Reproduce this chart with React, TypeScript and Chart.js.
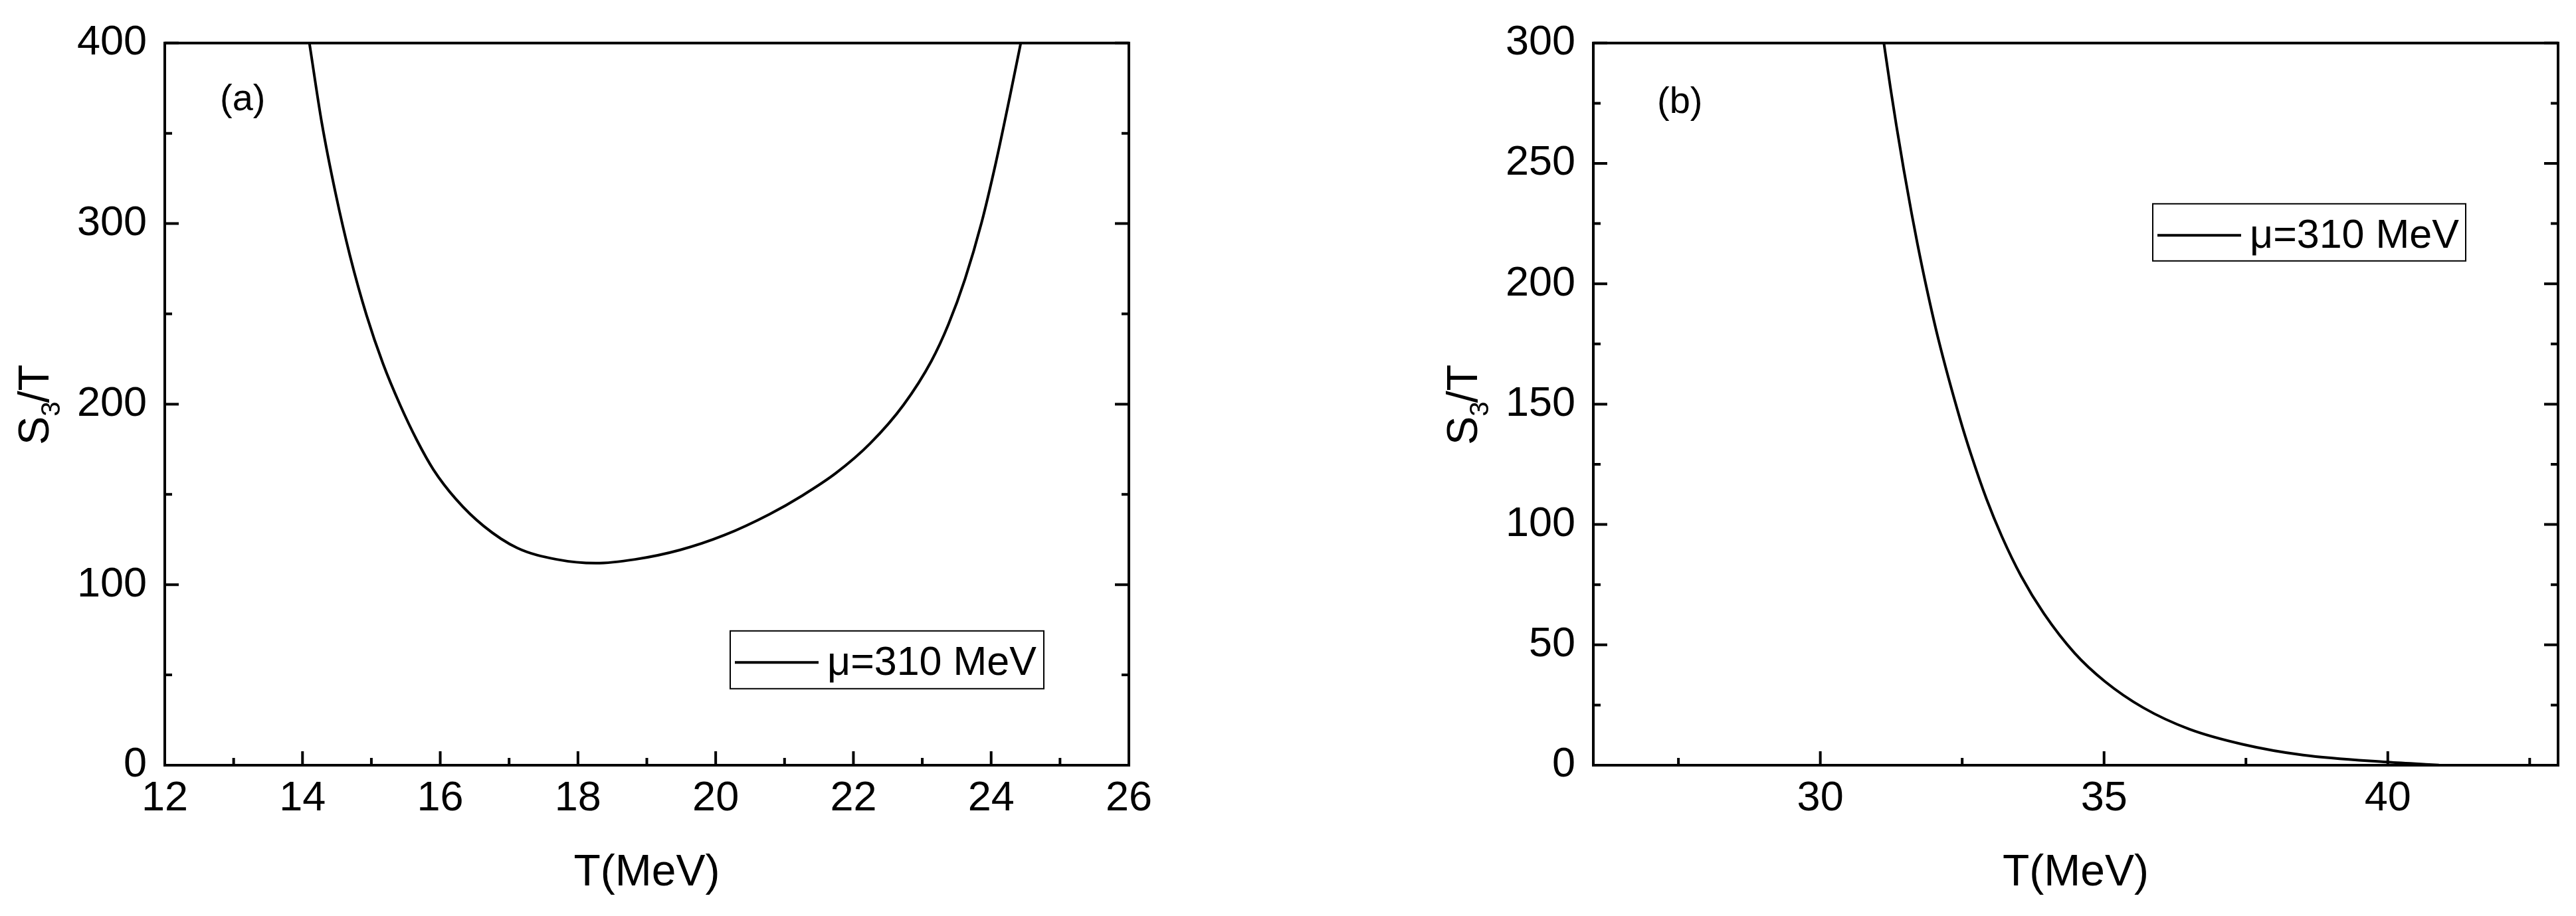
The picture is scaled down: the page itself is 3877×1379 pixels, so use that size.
import React, { useEffect, useRef } from 'react';
import { Chart, registerables } from 'chart.js';

Chart.register(...registerables);

const FONT = '"Liberation Sans", Arial, Helvetica, sans-serif';

// ---------- Panel (a) ----------
const A_T = [14.10, 14.28, 14.48, 14.69, 14.93, 15.17, 15.42, 15.66, 15.90, 16.23, 16.63, 17.12, 17.69, 18.26, 18.83, 19.48, 20.13, 20.78, 21.26, 21.75, 22.24, 22.73, 23.13, 23.38, 23.62, 23.86, 24.07, 24.27, 24.43];
const A_S = [400, 355.8, 316.8, 282.1, 249.2, 222.3, 199.3, 180.1, 163.8, 147.3, 132.5, 120.3, 114.0, 111.9, 114.0, 119.2, 127.5, 139.0, 149.4, 161.9, 178.1, 199.7, 223.7, 244.2, 269.2, 300.4, 334.0, 370.0, 400];
const A_X_TICKS = [12, 14, 16, 18, 20, 22, 24, 26];
const A_Y_TICKS = [0, 100, 200, 300, 400];
const A_X_RANGE = [12, 26];
const A_Y_RANGE = [0, 400];

// ---------- Panel (b) ----------
const B_T = [31.12, 31.24, 31.34, 31.47, 31.61, 31.71, 31.88, 32.08, 32.46, 32.66, 32.93, 33.20, 33.54, 33.94, 34.48, 35.02, 35.69, 36.50, 37.44, 38.51, 39.99, 40.73, 40.9];
const B_S = [300, 280.8, 265.8, 247.5, 229.1, 216.8, 197.5, 177.0, 144.0, 128.8, 110.5, 95.0, 78.5, 63.0, 46.6, 34.7, 23.9, 15.0, 8.7, 4.2, 1.3, 0.3, 0.1];
const B_X_TICKS = [30, 35, 40];
const B_Y_TICKS = [0, 50, 100, 150, 200, 250, 300];
const B_X_RANGE = [26, 43];
const B_Y_RANGE = [0, 300];

const SERIES_LABEL = 'μ=310 MeV';
const X_TITLE = 'T(MeV)';
const Y_TITLE_MAIN = 'S';
const Y_TITLE_SUB = '3';
const Y_TITLE_REST = '/T';

function minorValues(major: number[], min: number, max: number): number[] {
  if (major.length < 2) return [];
  const step = major[1] - major[0];
  const out: number[] = [];
  for (let v = major[0] - step / 2; v >= min - 1e-9; v -= step) out.push(v);
  for (const m of major) {
    const v = m + step / 2;
    if (v <= max + 1e-9) out.push(v);
  }
  return out;
}

interface PanelSpec {
  label: string;
  T: number[];
  S: number[];
  xTicks: number[];
  yTicks: number[];
  xRange: number[];
  yRange: number[];
  canvasWidth: number;
  yAxisWidth: number;
  padRight: number;
  panelDx: number;
  panelDy: number;
  legDx: number;
  legDy: number;
  legW: number;
  legH: number;
}

function makeDecor(p: PanelSpec) {
  return {
    id: 'decor' + p.label,
    afterDatasetsDraw(chart: any) {
      const ctx: CanvasRenderingContext2D = chart.ctx;
      const { left, right, top, bottom } = chart.chartArea;
      const xs = chart.scales.x;
      const ys = chart.scales.y;
      const majorLen = 21;
      const minorLen = 11;
      ctx.save();
      ctx.strokeStyle = '#000';
      ctx.fillStyle = '#000';
      ctx.lineWidth = 4;
      ctx.lineCap = 'butt';
      ctx.beginPath();
      const xMaj = xs.ticks.map((t: any) => t.value);
      const xMin = minorValues(xMaj, xs.min, xs.max);
      for (const v of xMaj) {
        const px = xs.getPixelForValue(v);
        ctx.moveTo(px, bottom);
        ctx.lineTo(px, bottom - majorLen);
      }
      for (const v of xMin) {
        const px = xs.getPixelForValue(v);
        ctx.moveTo(px, bottom);
        ctx.lineTo(px, bottom - minorLen);
      }
      const yMaj = ys.ticks.map((t: any) => t.value);
      const yMin = minorValues(yMaj, ys.min, ys.max);
      for (const v of yMaj) {
        const py = ys.getPixelForValue(v);
        ctx.moveTo(left, py);
        ctx.lineTo(left + majorLen, py);
        ctx.moveTo(right, py);
        ctx.lineTo(right - majorLen, py);
      }
      for (const v of yMin) {
        const py = ys.getPixelForValue(v);
        ctx.moveTo(left, py);
        ctx.lineTo(left + minorLen, py);
        ctx.moveTo(right, py);
        ctx.lineTo(right - minorLen, py);
      }
      ctx.stroke();
      ctx.lineJoin = 'miter';
      ctx.strokeRect(left, top, right - left, bottom - top);

      // panel label
      ctx.font = `56px ${FONT}`;
      ctx.textAlign = 'left';
      ctx.textBaseline = 'alphabetic';
      ctx.fillText(p.label, left + p.panelDx, top + p.panelDy);

      // legend
      const bx = left + p.legDx;
      const by = top + p.legDy;
      ctx.lineWidth = 2;
      ctx.strokeRect(bx, by, p.legW, p.legH);
      ctx.lineWidth = 4;
      ctx.beginPath();
      ctx.moveTo(bx + 7, by + 47.5);
      ctx.lineTo(bx + 133, by + 47.5);
      ctx.stroke();
      ctx.font = `61px ${FONT}`;
      ctx.fillText(chart.data.datasets[0].label, bx + 146, by + 66.5);

      // y title with subscript
      const cy = (top + bottom) / 2;
      const baseX = left - 175;
      ctx.translate(baseX, cy);
      ctx.rotate(-Math.PI / 2);
      const mainFont = `65px ${FONT}`;
      const subFont = `40px ${FONT}`;
      ctx.font = mainFont;
      const wS = ctx.measureText(Y_TITLE_MAIN).width;
      const wR = ctx.measureText(Y_TITLE_REST).width;
      ctx.font = subFont;
      const w3 = ctx.measureText(Y_TITLE_SUB).width;
      const total = wS + w3 + wR;
      let x0 = -total / 2;
      ctx.font = mainFont;
      ctx.fillText(Y_TITLE_MAIN, x0, 0);
      x0 += wS;
      ctx.font = subFont;
      ctx.fillText(Y_TITLE_SUB, x0, 17);
      x0 += w3;
      ctx.font = mainFont;
      ctx.fillText(Y_TITLE_REST, x0 - 2, 0);
      ctx.restore();
    },
  };
}

function makeConfig(p: PanelSpec): any {
  const points = p.T.map((t, i) => ({ x: t, y: p.S[i] }));
  return {
    type: 'line',
    data: {
      datasets: [
        {
          label: SERIES_LABEL,
          data: points,
          borderColor: '#000',
          borderWidth: 4,
          pointRadius: 0,
          fill: false,
          cubicInterpolationMode: 'monotone',
        },
      ],
    },
    options: {
      animation: false,
      responsive: false,
      devicePixelRatio: 1,
      layout: { padding: { left: 0, top: 50, right: p.padRight, bottom: 0 } },
      plugins: {
        legend: { display: false },
        tooltip: { enabled: false },
        title: { display: false },
      },
      scales: {
        x: {
          type: 'linear',
          min: p.xRange[0],
          max: p.xRange[1],
          grid: { display: false, drawTicks: false },
          border: { display: false },
          afterBuildTicks: (scale: any) => {
            scale.ticks = p.xTicks.map((v) => ({ value: v }));
          },
          afterFit: (scale: any) => {
            scale.height = 227;
          },
          ticks: {
            autoSkip: false,
            maxRotation: 0,
            minRotation: 0,
            padding: 13,
            color: '#000',
            font: { family: FONT, size: 63 },
            callback: (v: any) => String(v),
          },
          title: {
            display: true,
            text: X_TITLE,
            color: '#000',
            font: { family: FONT, size: 66 },
            padding: { top: 0, bottom: 25 },
          },
        },
        y: {
          type: 'linear',
          min: p.yRange[0],
          max: p.yRange[1],
          grid: { display: false, drawTicks: false },
          border: { display: false },
          afterBuildTicks: (scale: any) => {
            scale.ticks = p.yTicks.map((v) => ({ value: v }));
          },
          afterFit: (scale: any) => {
            scale.width = p.yAxisWidth;
          },
          ticks: {
            autoSkip: false,
            padding: 27,
            color: '#000',
            font: { family: FONT, size: 63 },
            callback: (v: any) => String(v),
          },
          title: { display: false },
        },
      },
    },
    plugins: [makeDecor(p)],
  };
}

const PANEL_A: PanelSpec = {
  label: '(a)',
  T: A_T,
  S: A_S,
  xTicks: A_X_TICKS,
  yTicks: A_Y_TICKS,
  xRange: A_X_RANGE,
  yRange: A_Y_RANGE,
  canvasWidth: 1938,
  yAxisWidth: 248,
  padRight: 1938 - 1699,
  panelDx: 83,
  panelDy: 101,
  legDx: 851,
  legDy: 885,
  legW: 472,
  legH: 87,
};

const PANEL_B: PanelSpec = {
  label: '(b)',
  T: B_T,
  S: B_S,
  xTicks: B_X_TICKS,
  yTicks: B_Y_TICKS,
  xRange: B_X_RANGE,
  yRange: B_Y_RANGE,
  canvasWidth: 1939,
  yAxisWidth: 460,
  padRight: 1939 - 1912,
  panelDx: 96,
  panelDy: 105,
  legDx: 842,
  legDy: 242,
  legW: 471,
  legH: 86,
};

function Panel({ spec, left }: { spec: PanelSpec; left: number }) {
  const ref = useRef<HTMLCanvasElement | null>(null);
  useEffect(() => {
    if (!ref.current) return;
    const chart = new Chart(ref.current, makeConfig(spec));
    return () => chart.destroy();
  }, [spec]);
  return (
    <canvas
      ref={ref}
      width={spec.canvasWidth}
      height={1379}
      style={{ position: 'absolute', left, top: 0, width: spec.canvasWidth, height: 1379 }}
    />
  );
}

export default function App() {
  return (
    <div
      style={{
        position: 'absolute',
        left: 0,
        top: 0,
        width: 3877,
        height: 1379,
        background: '#fff',
        overflow: 'hidden',
      }}
    >
      <Panel spec={PANEL_A} left={0} />
      <Panel spec={PANEL_B} left={1938} />
    </div>
  );
}
